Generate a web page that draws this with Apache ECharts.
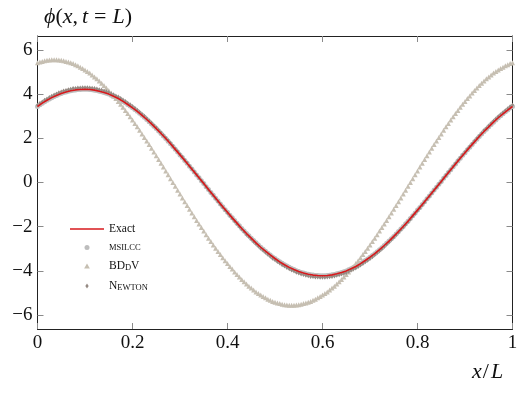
<!DOCTYPE html>
<html>
<head>
<meta charset="utf-8">
<script src="https://cdn.jsdelivr.net/npm/echarts@6/dist/echarts.min.js"></script>
<style>
  html, body { margin: 0; padding: 0; background: #fff; }
  #chart { width: 526px; height: 394px; }
</style>
</head>
<body>
<div id="chart"></div>
<script>
const xTicks = [0, 0.2, 0.4, 0.6, 0.8, 1]
const yTicks = [-6, -4, -2, 0, 2, 4, 6]

// x positions of the exact solution line
const xsLine = [
  0, 0.01, 0.02, 0.03, 0.04, 0.05, 0.06, 0.07, 0.08, 0.09,
  0.1, 0.11, 0.12, 0.13, 0.14, 0.15, 0.16, 0.17, 0.18, 0.19,
  0.2, 0.21, 0.22, 0.23, 0.24, 0.25, 0.26, 0.27, 0.28, 0.29,
  0.3, 0.31, 0.32, 0.33, 0.34, 0.35, 0.36, 0.37, 0.38, 0.39,
  0.4, 0.41, 0.42, 0.43, 0.44, 0.45, 0.46, 0.47, 0.48, 0.49,
  0.5, 0.51, 0.52, 0.53, 0.54, 0.55, 0.56, 0.57, 0.58, 0.59,
  0.6, 0.61, 0.62, 0.63, 0.64, 0.65, 0.66, 0.67, 0.68, 0.69,
  0.7, 0.71, 0.72, 0.73, 0.74, 0.75, 0.76, 0.77, 0.78, 0.79,
  0.8, 0.81, 0.82, 0.83, 0.84, 0.85, 0.86, 0.87, 0.88, 0.89,
  0.9, 0.91, 0.92, 0.93, 0.94, 0.95, 0.96, 0.97, 0.98, 0.99,
  1
]

const exact = [
  3.44, 3.59, 3.72, 3.84, 3.94, 4.03, 4.10, 4.15, 4.19, 4.21,
  4.22, 4.21, 4.18, 4.13, 4.07, 4.00, 3.90, 3.80, 3.67, 3.53,
  3.38, 3.22, 3.04, 2.85, 2.65, 2.44, 2.22, 1.99, 1.75, 1.50,
  1.25, 1.00, 0.74, 0.48, 0.21, -0.05, -0.32, -0.58, -0.84, -1.10,
  -1.35, -1.60, -1.84, -2.08, -2.31, -2.52, -2.73, -2.93, -3.11, -3.28,
  -3.44, -3.59, -3.72, -3.84, -3.94, -4.03, -4.10, -4.15, -4.19, -4.21,
  -4.22, -4.21, -4.18, -4.13, -4.07, -4.00, -3.90, -3.80, -3.67, -3.53,
  -3.38, -3.22, -3.04, -2.85, -2.65, -2.44, -2.22, -1.99, -1.75, -1.50,
  -1.25, -1.00, -0.74, -0.48, -0.21, 0.05, 0.32, 0.58, 0.84, 1.10,
  1.35, 1.60, 1.84, 2.08, 2.31, 2.52, 2.73, 2.93, 3.11, 3.28,
  3.44
]

// x positions of the numerical solutions (markers)
const xsPts = [
  0, 0.005, 0.01, 0.015, 0.02, 0.025, 0.03, 0.035, 0.04, 0.045,
  0.05, 0.055, 0.06, 0.065, 0.07, 0.075, 0.08, 0.085, 0.09, 0.095,
  0.1, 0.105, 0.11, 0.115, 0.12, 0.125, 0.13, 0.135, 0.14, 0.145,
  0.15, 0.155, 0.16, 0.165, 0.17, 0.175, 0.18, 0.185, 0.19, 0.195,
  0.2, 0.205, 0.21, 0.215, 0.22, 0.225, 0.23, 0.235, 0.24, 0.245,
  0.25, 0.255, 0.26, 0.265, 0.27, 0.275, 0.28, 0.285, 0.29, 0.295,
  0.3, 0.305, 0.31, 0.315, 0.32, 0.325, 0.33, 0.335, 0.34, 0.345,
  0.35, 0.355, 0.36, 0.365, 0.37, 0.375, 0.38, 0.385, 0.39, 0.395,
  0.4, 0.405, 0.41, 0.415, 0.42, 0.425, 0.43, 0.435, 0.44, 0.445,
  0.45, 0.455, 0.46, 0.465, 0.47, 0.475, 0.48, 0.485, 0.49, 0.495,
  0.5, 0.505, 0.51, 0.515, 0.52, 0.525, 0.53, 0.535, 0.54, 0.545,
  0.55, 0.555, 0.56, 0.565, 0.57, 0.575, 0.58, 0.585, 0.59, 0.595,
  0.6, 0.605, 0.61, 0.615, 0.62, 0.625, 0.63, 0.635, 0.64, 0.645,
  0.65, 0.655, 0.66, 0.665, 0.67, 0.675, 0.68, 0.685, 0.69, 0.695,
  0.7, 0.705, 0.71, 0.715, 0.72, 0.725, 0.73, 0.735, 0.74, 0.745,
  0.75, 0.755, 0.76, 0.765, 0.77, 0.775, 0.78, 0.785, 0.79, 0.795,
  0.8, 0.805, 0.81, 0.815, 0.82, 0.825, 0.83, 0.835, 0.84, 0.845,
  0.85, 0.855, 0.86, 0.865, 0.87, 0.875, 0.88, 0.885, 0.89, 0.895,
  0.9, 0.905, 0.91, 0.915, 0.92, 0.925, 0.93, 0.935, 0.94, 0.945,
  0.95, 0.955, 0.96, 0.965, 0.97, 0.975, 0.98, 0.985, 0.99, 0.995,
  1
]

const msilcc = [
  3.44, 3.52, 3.59, 3.66, 3.72, 3.78, 3.84, 3.89, 3.94, 3.99,
  4.03, 4.07, 4.10, 4.13, 4.15, 4.18, 4.19, 4.21, 4.21, 4.22,
  4.22, 4.22, 4.21, 4.20, 4.18, 4.16, 4.13, 4.11, 4.07, 4.04,
  4.00, 3.95, 3.90, 3.85, 3.80, 3.74, 3.67, 3.61, 3.53, 3.46,
  3.38, 3.30, 3.22, 3.13, 3.04, 2.95, 2.85, 2.75, 2.65, 2.54,
  2.44, 2.33, 2.22, 2.10, 1.99, 1.87, 1.75, 1.63, 1.50, 1.38,
  1.25, 1.13, 1.00, 0.87, 0.74, 0.61, 0.48, 0.34, 0.21, 0.08,
  -0.05, -0.19, -0.32, -0.45, -0.58, -0.71, -0.84, -0.97, -1.10, -1.23,
  -1.35, -1.48, -1.60, -1.72, -1.84, -1.96, -2.08, -2.19, -2.31, -2.41,
  -2.52, -2.63, -2.73, -2.83, -2.93, -3.02, -3.11, -3.20, -3.28, -3.37,
  -3.44, -3.52, -3.59, -3.66, -3.72, -3.78, -3.84, -3.89, -3.94, -3.99,
  -4.03, -4.07, -4.10, -4.13, -4.15, -4.18, -4.19, -4.21, -4.21, -4.22,
  -4.22, -4.22, -4.21, -4.20, -4.18, -4.16, -4.13, -4.11, -4.07, -4.04,
  -4.00, -3.95, -3.90, -3.85, -3.80, -3.74, -3.67, -3.61, -3.53, -3.46,
  -3.38, -3.30, -3.22, -3.13, -3.04, -2.95, -2.85, -2.75, -2.65, -2.54,
  -2.44, -2.33, -2.22, -2.10, -1.99, -1.87, -1.75, -1.63, -1.50, -1.38,
  -1.25, -1.13, -1.00, -0.87, -0.74, -0.61, -0.48, -0.34, -0.21, -0.08,
  0.05, 0.19, 0.32, 0.45, 0.58, 0.71, 0.84, 0.97, 1.10, 1.23,
  1.35, 1.48, 1.60, 1.72, 1.84, 1.96, 2.08, 2.19, 2.31, 2.41,
  2.52, 2.63, 2.73, 2.83, 2.93, 3.02, 3.11, 3.20, 3.28, 3.37,
  3.44
]

const bddv = [
  5.42, 5.45, 5.48, 5.51, 5.53, 5.54, 5.55, 5.55, 5.55, 5.54,
  5.53, 5.51, 5.48, 5.45, 5.42, 5.38, 5.33, 5.28, 5.22, 5.16,
  5.09, 5.02, 4.95, 4.86, 4.78, 4.69, 4.59, 4.49, 4.39, 4.28,
  4.16, 4.05, 3.92, 3.80, 3.67, 3.54, 3.40, 3.26, 3.12, 2.97,
  2.83, 2.67, 2.52, 2.36, 2.20, 2.04, 1.88, 1.72, 1.55, 1.38,
  1.21, 1.04, 0.87, 0.70, 0.52, 0.35, 0.17, 0.00, -0.17, -0.35,
  -0.52, -0.70, -0.87, -1.04, -1.21, -1.38, -1.55, -1.72, -1.88, -2.04,
  -2.20, -2.36, -2.52, -2.67, -2.83, -2.97, -3.12, -3.26, -3.40, -3.54,
  -3.67, -3.80, -3.92, -4.05, -4.16, -4.28, -4.39, -4.49, -4.59, -4.69,
  -4.78, -4.86, -4.95, -5.02, -5.09, -5.16, -5.22, -5.28, -5.33, -5.38,
  -5.42, -5.45, -5.48, -5.51, -5.53, -5.54, -5.55, -5.55, -5.55, -5.54,
  -5.53, -5.51, -5.48, -5.45, -5.42, -5.38, -5.33, -5.28, -5.22, -5.16,
  -5.09, -5.02, -4.95, -4.86, -4.78, -4.69, -4.59, -4.49, -4.39, -4.28,
  -4.16, -4.05, -3.92, -3.80, -3.67, -3.54, -3.40, -3.26, -3.12, -2.97,
  -2.83, -2.67, -2.52, -2.36, -2.20, -2.04, -1.88, -1.72, -1.55, -1.38,
  -1.21, -1.04, -0.87, -0.70, -0.52, -0.35, -0.17, 0.00, 0.17, 0.35,
  0.52, 0.70, 0.87, 1.04, 1.21, 1.38, 1.55, 1.72, 1.88, 2.04,
  2.20, 2.36, 2.52, 2.67, 2.83, 2.97, 3.12, 3.26, 3.40, 3.54,
  3.67, 3.80, 3.92, 4.05, 4.16, 4.28, 4.39, 4.49, 4.59, 4.69,
  4.78, 4.86, 4.95, 5.02, 5.09, 5.16, 5.22, 5.28, 5.33, 5.38,
  5.42
]

const newton = [
  3.51, 3.59, 3.66, 3.73, 3.79, 3.86, 3.92, 3.97, 4.02, 4.07,
  4.11, 4.15, 4.18, 4.21, 4.23, 4.26, 4.27, 4.29, 4.29, 4.30,
  4.30, 4.30, 4.29, 4.28, 4.26, 4.24, 4.21, 4.19, 4.15, 4.12,
  4.08, 4.03, 3.98, 3.93, 3.88, 3.81, 3.74, 3.68, 3.60, 3.53,
  3.45, 3.37, 3.28, 3.19, 3.10, 3.01, 2.91, 2.81, 2.70, 2.59,
  2.49, 2.38, 2.26, 2.14, 2.03, 1.91, 1.79, 1.66, 1.53, 1.41,
  1.28, 1.15, 1.02, 0.89, 0.75, 0.62, 0.49, 0.35, 0.21, 0.08,
  -0.05, -0.19, -0.33, -0.46, -0.59, -0.72, -0.86, -0.99, -1.12, -1.25,
  -1.38, -1.51, -1.63, -1.75, -1.88, -2.00, -2.12, -2.23, -2.36, -2.46,
  -2.57, -2.68, -2.78, -2.89, -2.99, -3.08, -3.17, -3.26, -3.35, -3.44,
  -3.51, -3.59, -3.66, -3.73, -3.79, -3.86, -3.92, -3.97, -4.02, -4.07,
  -4.11, -4.15, -4.18, -4.21, -4.23, -4.26, -4.27, -4.29, -4.29, -4.30,
  -4.30, -4.30, -4.29, -4.28, -4.26, -4.24, -4.21, -4.19, -4.15, -4.12,
  -4.08, -4.03, -3.98, -3.93, -3.88, -3.81, -3.74, -3.68, -3.60, -3.53,
  -3.45, -3.37, -3.28, -3.19, -3.10, -3.01, -2.91, -2.81, -2.70, -2.59,
  -2.49, -2.38, -2.26, -2.14, -2.03, -1.91, -1.79, -1.66, -1.53, -1.41,
  -1.28, -1.15, -1.02, -0.89, -0.75, -0.62, -0.49, -0.35, -0.21, -0.08,
  0.05, 0.19, 0.33, 0.46, 0.59, 0.72, 0.86, 0.99, 1.12, 1.25,
  1.38, 1.51, 1.63, 1.75, 1.88, 2.00, 2.12, 2.23, 2.36, 2.46,
  2.57, 2.68, 2.78, 2.89, 2.99, 3.08, 3.17, 3.26, 3.35, 3.44,
  3.51
]

const serif = '"Liberation Serif", "DejaVu Serif", serif'
const pair = (xs, ys) => xs.map((x, i) => [x, ys[i]])
const fmtNum = (v) => (v < 0 ? '\u2212' + Math.abs(v) : String(v))

const legendNames = {
  Exact: '{n|Exact}',
  msilcc: '{s|MSILCC}',
  BDdV: '{n|BD}{s|D}{n|V}',
  Newton: '{n|N}{s|EWTON}'
}

const mathRich = {
  i: { fontFamily: serif, fontStyle: 'italic', fontSize: 22, fill: '#111' },
  r: { fontFamily: serif, fontSize: 22, fill: '#111' },
  c: { fontFamily: serif, fontSize: 22, fill: '#111', padding: [0, 4, 0, 0] },
  e: { fontFamily: serif, fontSize: 22, fill: '#111', padding: [0, 6, 0, 6] },
  sl: { fontFamily: serif, fontSize: 22, fill: '#111', padding: [0, 2, 0, 1] }
}

const chart = echarts.init(document.getElementById('chart'))

const frameTick = { show: true, inside: true, length: 6, lineStyle: { color: '#8a8a8a', width: 1 } }
const frameLine = { show: true, onZero: false, lineStyle: { color: '#222', width: 1 } }

chart.setOption({
  animation: false,
  grid: { left: 37.5, right: 13.5, top: 36, bottom: 65, containLabel: false, outerBoundsMode: 'none' },
  graphic: [
    {
      type: 'text',
      left: 44,
      top: 6,
      style: { text: '{i|ϕ}{r|(}{i|x}{c|,}{i|t}{e|=}{i|L}{r|)}', rich: mathRich }
    },
    {
      type: 'text',
      left: 472,
      top: 361,
      style: { text: '{i|x}{sl|/}{i|L}', rich: mathRich }
    }
  ],
  legend: {
    orient: 'vertical',
    left: 65,
    top: 218,
    itemWidth: 34,
    itemHeight: 5,
    itemGap: 8,
    data: [
      { name: 'Exact', icon: 'path://M0,0H340V16H0Z' },
      { name: 'msilcc', icon: 'circle' },
      { name: 'BDdV', icon: 'path://M3,0L6,5.2L0,5.2Z' },
      { name: 'Newton', icon: 'path://M2,0L4,3L2,6L0,3Z' }
    ],
    formatter: (name) => legendNames[name],
    textStyle: {
      rich: {
        n: { fontFamily: serif, fontSize: 11.5, color: '#111', verticalAlign: 'bottom' },
        s: { fontFamily: serif, fontSize: 8.5, color: '#111', verticalAlign: 'bottom' }
      }
    }
  },
  xAxis: [
    {
      type: 'value',
      min: 0,
      max: 1,
      interval: 0.2,
      axisLine: frameLine,
      axisTick: frameTick,
      splitLine: { show: false },
      axisLabel: {
        customValues: xTicks,
        formatter: fmtNum,
        fontFamily: serif,
        fontSize: 19,
        color: '#111',
        margin: 5
      }
    },
    {
      type: 'value',
      position: 'top',
      min: 0,
      max: 1,
      interval: 0.2,
      axisLine: frameLine,
      axisTick: frameTick,
      splitLine: { show: false },
      axisLabel: { show: false }
    }
  ],
  yAxis: [
    {
      type: 'value',
      min: -6.63,
      max: 6.63,
      axisLine: frameLine,
      axisTick: Object.assign({ customValues: yTicks }, frameTick),
      splitLine: { show: false },
      axisLabel: {
        customValues: yTicks,
        formatter: fmtNum,
        fontFamily: serif,
        fontSize: 19,
        color: '#111',
        margin: 5
      }
    },
    {
      type: 'value',
      position: 'right',
      min: -6.63,
      max: 6.63,
      axisLine: frameLine,
      axisTick: Object.assign({ customValues: yTicks }, frameTick),
      splitLine: { show: false },
      axisLabel: { show: false }
    }
  ],
  series: [
    {
      name: 'msilcc',
      type: 'scatter',
      symbol: 'circle',
      symbolSize: 5,
      itemStyle: { color: '#bdbdbd', opacity: 1 },
      data: pair(xsPts, msilcc),
      z: 2
    },
    {
      name: 'BDdV',
      type: 'scatter',
      symbol: 'triangle',
      symbolSize: 5,
      itemStyle: { color: '#c6bfb2', opacity: 1 },
      data: pair(xsPts, bddv),
      z: 3
    },
    {
      name: 'Newton',
      type: 'scatter',
      symbol: 'diamond',
      symbolSize: [3, 4.5],
      itemStyle: { color: '#958a83', opacity: 1 },
      data: pair(xsPts, newton),
      z: 4
    },
    {
      name: 'Exact',
      type: 'line',
      symbol: 'none',
      showSymbol: false,
      lineStyle: { color: '#d7191c', width: 1.6 },
      itemStyle: { color: '#d7191c' },
      data: pair(xsLine, exact),
      z: 5
    }
  ]
})
</script>
</body>
</html>
